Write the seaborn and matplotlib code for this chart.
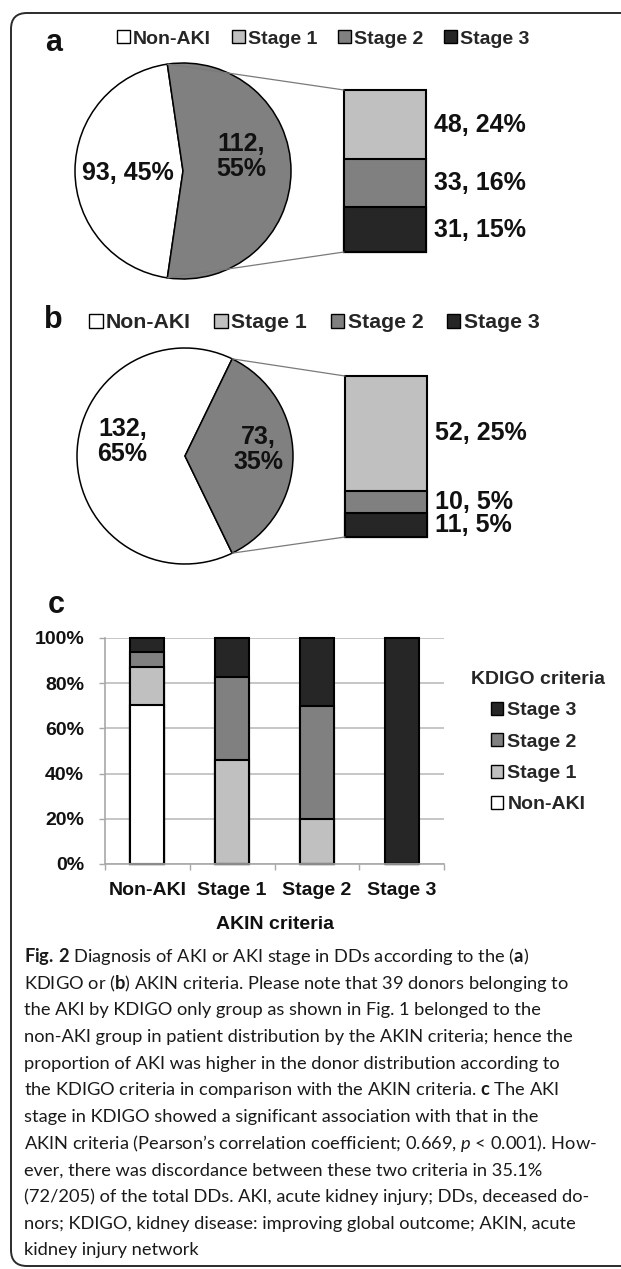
import numpy as np
import pandas as pd
import seaborn as sns
import matplotlib.pyplot as plt
from matplotlib.patches import Patch, FancyBboxPatch, ConnectionPatch
from matplotlib.ticker import PercentFormatter

# data ------------------------------------------------------------------
stages = ['Non-AKI', 'Stage 1', 'Stage 2', 'Stage 3']

# (a) KDIGO: non-AKI vs AKI, then AKI split by stage
kdigo_main = [93, 112]
kdigo_main_pct = [45, 55]
kdigo_sub = [48, 33, 31]          # Stage 1, Stage 2, Stage 3
kdigo_sub_pct = [24, 16, 15]

# (b) AKIN
akin_main = [132, 73]
akin_main_pct = [65, 35]
akin_sub = [52, 10, 11]
akin_sub_pct = [25, 5, 5]

# (c) KDIGO stage counts inside each AKIN group (Non-AKI, Stage 1, Stage 2, Stage 3)
c_nonaki = [93, 0, 0, 0]
c_stage1 = [22, 24, 2, 0]
c_stage2 = [9, 19, 5, 0]
c_stage3 = [8, 9, 3, 11]

colors = {'Non-AKI': '#ffffff', 'Stage 1': '#c0c0c0', 'Stage 2': '#808080', 'Stage 3': '#262626'}

caption = [
    r"$\mathbf{Fig.\!}$ $\mathbf{2}$ Diagnosis of AKI or AKI stage in DDs according to the ($\mathbf{a}$)",
    r"KDIGO or ($\mathbf{b}$) AKIN criteria. Please note that 39 donors belonging to",
    "the AKI by KDIGO only group as shown in Fig. 1 belonged to the",
    "non-AKI group in patient distribution by the AKIN criteria; hence the",
    "proportion of AKI was higher in the donor distribution according to",
    r"the KDIGO criteria in comparison with the AKIN criteria. $\mathbf{c}$ The AKI",
    "stage in KDIGO showed a significant association with that in the",
    r"AKIN criteria (Pearson’s correlation coefficient; 0.669, $\mathit{p}$ < 0.001). How-",
    "ever, there was discordance between these two criteria in 35.1%",
    "(72/205) of the total DDs. AKI, acute kidney injury; DDs, deceased do-",
    "nors; KDIGO, kidney disease: improving global outcome; AKIN, acute",
    "kidney injury network",
]

# style -----------------------------------------------------------------
sns.set_theme(style='white')
plt.rcParams['font.family'] = ['Liberation Sans', 'DejaVu Sans']
plt.rcParams['mathtext.fontset'] = 'custom'
plt.rcParams['mathtext.rm'] = 'Lato'
plt.rcParams['mathtext.bf'] = 'Lato:bold'
plt.rcParams['mathtext.it'] = 'Lato:italic'

W, H = 621, 1269
fig = plt.figure(figsize=(W / 100, H / 100), dpi=100)


def px(x, y, w, h):
    # pixel box (top-left origin) -> figure fraction
    return [x / W, 1 - (y + h) / H, w / W, h / H]


# background layer in pixel units: frame + panel letters
bg = fig.add_axes([0, 0, 1, 1])
bg.set_xlim(0, W)
bg.set_ylim(H, 0)
bg.axis('off')
bg.add_patch(FancyBboxPatch((11, 13), 640, 1253, boxstyle='round,pad=0,rounding_size=16',
                            fc='none', ec='#2b2b2b', lw=1.4))
for letter, (lx, ly) in zip('abc', [(54, 43), (53, 320), (56, 605)]):
    bg.text(lx, ly, letter, ha='center', va='center', fontsize=22, weight='bold', color='#111111')

legend_handles = [Patch(facecolor=colors[s], edgecolor='black', lw=1) for s in stages]


def stacked_bar(ax, x, layers, width):
    # layers: list of (values, colour) from bottom to top, drawn as cumulative bars
    vals = np.array([np.atleast_1d(v) for v, _ in layers], dtype=float)
    tops = np.cumsum(vals, axis=0)
    for top, (_, col) in reversed(list(zip(tops, layers))):
        sns.barplot(x=x, y=top, color=col, width=width, saturation=1, errorbar=None,
                    edgecolor='black', linewidth=1.5, ax=ax, clip_on=False)


def pie_of_bar(center, main, main_pct, seps, label_pos, sub, sub_pct, bar_box, leg_xy, leg_fs):
    cx, cy, r = center
    s = 1.02
    axp = fig.add_axes(px(cx - r * s, cy - r * s, 2 * r * s, 2 * r * s))
    theta = main[1] / sum(main) * 180
    axp.pie(main, colors=[colors['Non-AKI'], colors['Stage 2']], startangle=theta,
            wedgeprops=dict(edgecolor='black', linewidth=1.1))
    axp.set_xlim(-s, s)
    axp.set_ylim(-s, s)
    for (tx, ty), n, p, sep in zip(label_pos, main, main_pct, seps):
        axp.text(tx, ty, f"{n}{sep}{p}%", ha='center', va='center', fontsize=18,
                 weight='bold', color='#111111', linespacing=1.05)

    axb = fig.add_axes(px(*bar_box))
    total = sum(sub)
    layers = [(sub[2], colors['Stage 3']), (sub[1], colors['Stage 2']), (sub[0], colors['Stage 1'])]
    stacked_bar(axb, [0], layers, 1.0)
    axb.set_xlim(-0.5, 0.5)
    axb.set_ylim(0, total)
    axb.axis('off')
    bottom = 0
    for (v, _), n, p in zip(layers, sub[::-1], sub_pct[::-1]):
        axb.annotate(f"{n}, {p}%", xy=(0.5, bottom + v / 2), xytext=(6, 0), textcoords='offset points',
                     ha='left', va='center', fontsize=18, weight='bold', color='#111111')
        bottom += v

    t = np.deg2rad(theta)
    for sgn, yb in [(1, total), (-1, 0)]:
        con = ConnectionPatch(xyA=(np.cos(t), sgn * np.sin(t)), coordsA=axp.transData,
                              xyB=(-0.5, yb), coordsB=axb.transData, color='#7a7a7a', lw=0.9)
        fig.add_artist(con)

    fig.legend(legend_handles, stages, ncol=4, loc='center left',
               bbox_to_anchor=(leg_xy[0] / W, 1 - leg_xy[1] / H), frameon=False,
               prop=dict(weight='bold', size=leg_fs), handlelength=0.65, handleheight=0.65,
               handletextpad=0.15, columnspacing=1.1, borderpad=0, borderaxespad=0)


# (a) and (b) --------------------------------------------------------------
pie_of_bar((183, 171, 108), kdigo_main, kdigo_main_pct, [', ', ',\n'],
           [(-0.51, -0.02), (0.54, 0.13)], kdigo_sub, kdigo_sub_pct,
           (344, 90, 82, 162), (117, 39), 14)
pie_of_bar((185, 456, 108), akin_main, akin_main_pct, [',\n', ',\n'],
           [(-0.58, 0.13), (0.68, 0.06)], akin_sub, akin_sub_pct,
           (345, 376, 82, 161), (89, 323), 15.3)

# (c) stacked 100% bars -----------------------------------------------------
df = pd.DataFrame({'AKIN': stages, 'Non-AKI': c_nonaki, 'Stage 1': c_stage1,
                   'Stage 2': c_stage2, 'Stage 3': c_stage3})
share = df[stages].div(df[stages].sum(axis=1), axis=0)

axc = fig.add_axes(px(105, 638, 339, 226))
axc.set_axisbelow(True)
stacked_bar(axc, df['AKIN'], [(share[s].values, colors[s]) for s in stages], 0.4)
axc.set_xlim(-0.5, 3.5)
axc.set_ylim(0, 1)
axc.set_yticks(np.linspace(0, 1, 6))
axc.yaxis.set_major_formatter(PercentFormatter(1.0, decimals=0))
axc.yaxis.grid(True, color='#bcbcbc', lw=1.2)
axc.xaxis.grid(False)
sns.despine(ax=axc)
for side in ['left', 'bottom']:
    axc.spines[side].set_color('#a8a8a8')
    axc.spines[side].set_linewidth(1.2)
axc.set_xticks(np.arange(-0.5, 4, 1), minor=True)
axc.tick_params(axis='x', which='minor', bottom=True, length=4, width=1, color='#a8a8a8')
axc.tick_params(axis='x', which='major', bottom=False, length=0, pad=13)
axc.tick_params(axis='y', left=True, length=4, width=1, color='#a8a8a8', pad=11)
for lab in axc.get_xticklabels() + axc.get_yticklabels():
    lab.set_fontweight('bold')
    lab.set_fontsize(14)
    lab.set_color('#111111')
axc.set_ylabel('')
axc.set_xlabel('AKIN criteria', fontsize=14, weight='bold', color='#111111', labelpad=12)

c_handles = legend_handles[::-1]
axc.legend(c_handles, stages[::-1], title='KDIGO criteria', loc='upper left',
           bbox_to_anchor=(471 / W, 1 - 671 / H), bbox_transform=fig.transFigure,
           frameon=False, prop=dict(weight='bold', size=14),
           title_fontproperties=dict(weight='bold', size=14),
           handlelength=0.65, handleheight=0.65, handletextpad=0.2, labelspacing=0.72,
           borderpad=0, borderaxespad=0)

# caption ---------------------------------------------------------------------
for i, line in enumerate(caption):
    fig.text(24 / W, 1 - (962 + i * 26.65) / H, line, family=['Lato', 'DejaVu Sans'],
             fontsize=13.15, color='#1a1a1a', va='baseline', ha='left')

fig.savefig('out.png', dpi=100)
